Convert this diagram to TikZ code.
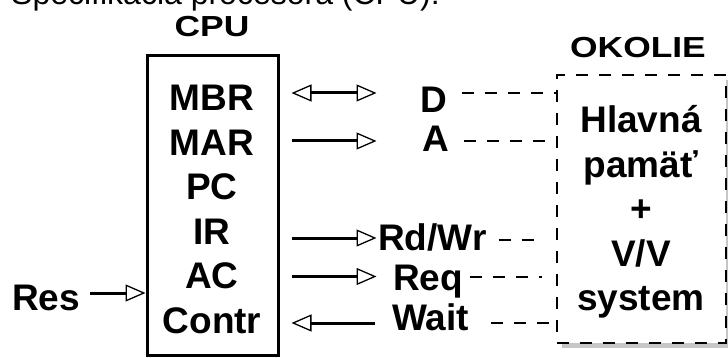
\documentclass[tikz,border=0pt]{standalone}
\usepackage{fontspec}
\setmainfont{Liberation Sans}
\usetikzlibrary{arrows.meta,positioning,shadows}

\newcommand{\regfont}{\fontsize{37}{44}\selectfont\bfseries}
\newcommand{\headfont}{\fontsize{29}{34}\selectfont\bfseries}

\begin{document}
\begin{tikzpicture}[
  x=1pt, y=-1pt,
  node distance=17pt,
  reg/.style={font=\regfont, inner sep=0pt, text height=27pt, text depth=0pt},
  sig/.style={font=\regfont, inner sep=0pt, text height=27pt, text depth=0pt,
              anchor=base west},
  head/.style={font=\headfont, inner sep=0pt, anchor=base},
  bus/.style={line width=3pt},
  link/.style={line width=2pt, dash pattern=on 12pt off 11pt},
  >={Triangle[open, length=20pt, width=17pt, line width=1.3pt]},
]
\useasboundingbox (0,0) rectangle (728,358);

% Caption, cut at the top edge
\node[anchor=base west, inner sep=0pt, font=\fontsize{32}{38}\selectfont]
  (spec) at (11,5) {Specifikácia procesora (CPU):};

% CPU with its registers
\node[head] (cputitle) at (212,37) {\scalebox{1.22}[1]{CPU}};
\node[draw, line width=3pt, fill=white, minimum width=131pt, minimum height=299pt,
      inner sep=0pt, drop shadow={shadow xshift=2pt, shadow yshift=-2pt,
      fill=gray!40, opacity=1}] (cpu) at (212.5,205.5) {};
\node[reg] (mbr) at (212,97.5) {MBR};
\node[reg, below=of mbr] (mar) {MAR};
\node[reg, below=of mar] (pc) {PC};
\node[reg, below=of pc] (ir) {IR};
\node[reg, below=of ir] (ac) {AC};
\node[reg, below=of ac] (contr) {Contr};

% Environment: memory + I/O
\node[head] (okolietitle) at (638,58) {\scalebox{1.22}[1]{OKOLIE}};
\node[draw, link, line width=2.5pt, fill=white, minimum width=169pt,
      minimum height=268pt, inner sep=0pt, drop shadow={shadow xshift=5pt,
      shadow yshift=-5pt, fill=gray!45, opacity=1}] (okolie) at (641.5,209) {};
\node[reg] (hlavna) at (641,119.5) {Hlavná};
\node[reg, below=of hlavna] (pamat) {pamäť};
\node[reg, below=of pamat] (plus) {+};
\node[reg, below=of plus] (vv) {V/V};
\node[reg, below=of vv] (system) {system};

% Signals
\node[sig] (d) at (420,113) {D};
\node[sig] (a) at (422,152) {A};
\node[sig] (rdwr) at (378,250) {Rd/Wr};
\node[sig] (req) at (393,290) {Req};
\node[sig] (wait) at (392,330) {Wait};
\node[sig] (res) at (12,310) {Res};

% Buses from the CPU
\draw[bus, <->] ([xshift=12pt, yshift=6.5pt]cpu.east |- d.west) -- ++(85,0);
\draw[bus, ->] ([xshift=12pt, yshift=-2.5pt]cpu.east |- a.west) -- ++(85,0);
\draw[bus, ->] ([xshift=12pt, yshift=-1.5pt]cpu.east |- rdwr.west) -- ++(85,0);
\draw[bus, ->] ([xshift=12pt]cpu.east |- req.west) -- ++(85,0);
\draw[bus, <-] ([xshift=12pt, yshift=-6.5pt]cpu.east |- wait.west) -- ++(83,0);
\draw[bus, ->] ([xshift=10pt, yshift=3.5pt]res.east) -- ([yshift=3.5pt]cpu.west |- res.east);

% Dashed links to the environment
\draw[link] ([xshift=15pt, yshift=6.5pt]d.east) -- ([yshift=6.5pt]okolie.west |- d.east);
\draw[link] ([xshift=15pt, yshift=-2.5pt]a.east) -- ([yshift=-2.5pt]okolie.west |- a.east);
\draw[link] ([xshift=12pt, yshift=-3.5pt]rdwr.east) -- ([xshift=-14pt, yshift=-3.5pt]okolie.west |- rdwr.east);
\draw[link] ([xshift=7pt, yshift=-0.5pt]req.east) -- ([xshift=-14pt, yshift=-0.5pt]okolie.west |- req.east);
\draw[link] ([xshift=22pt, yshift=-6.5pt]wait.east) -- ([yshift=-6.5pt]okolie.west |- wait.east);
\end{tikzpicture}
\end{document}
